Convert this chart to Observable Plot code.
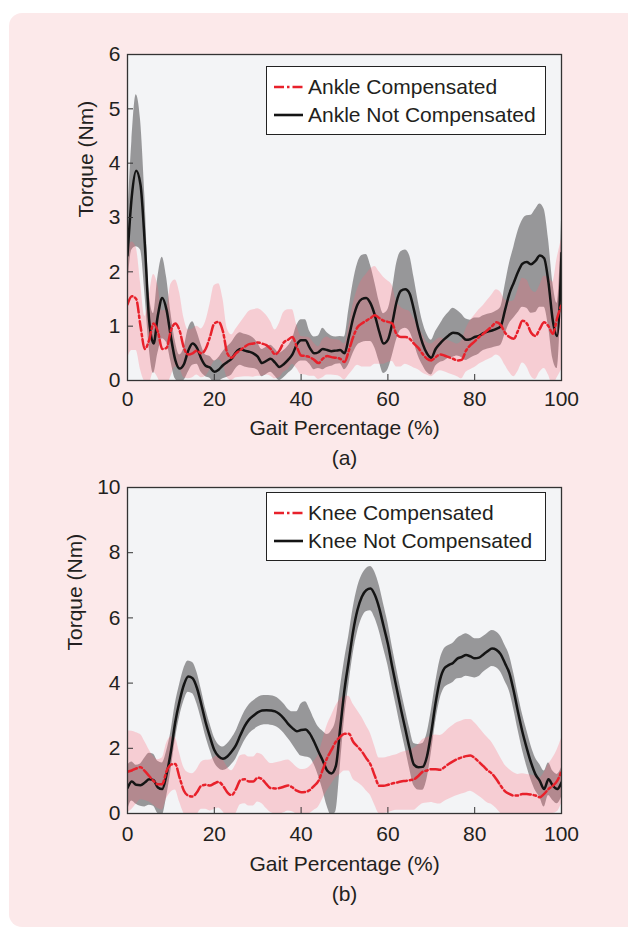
<!DOCTYPE html>
<html>
<head>
<meta charset="utf-8">
<script src="https://cdn.jsdelivr.net/npm/d3@7"></script>
<script src="https://cdn.jsdelivr.net/npm/@observablehq/plot@0.6"></script>
<style>
  html, body { margin: 0; padding: 0; background: #ffffff; }
  body { width: 628px; height: 930px; position: relative; overflow: hidden; font-family: "Liberation Sans", Arial, sans-serif; color: #231f20; }
  #panel { position: absolute; left: 9px; top: 13px; width: 660px; height: 914px; background: #fce9ea; border-radius: 13px; }
  .chart { position: absolute; left: 0; }
  .legend { position: absolute; left: 266px; width: 280px; height: 69px; box-sizing: border-box; border: 1.3px solid #222; background: #ffffff; }
  .legend .row { position: absolute; left: 0; height: 28px; width: 100%; }
  .legend svg { position: absolute; left: 6px; top: 0; }
  .legend span { position: absolute; left: 41px; top: 1px; font-size: 21px; line-height: 26px; white-space: nowrap; }
</style>
</head>
<body>
<div id="panel"></div>
<div id="chartA" class="chart" style="top:0px"></div>
<div id="chartB" class="chart" style="top:433px"></div>
<div class="legend" id="legA" style="top:66px"></div>
<div class="legend" id="legB" style="top:492px"></div>
<script>
// ---------- Data (gait percentage 0..100 at 1% steps) ----------
const gaitPct = d3.range(0, 101, 1);

const xTicks = [0, 20, 40, 60, 80, 100];
const yTicksAnkle = [0, 1, 2, 3, 4, 5, 6];
const yTicksKnee = [0, 2, 4, 6, 8, 10];

const ankleLabels = ["Ankle Compensated", "Ankle Not Compensated"];
const kneeLabels = ["Knee Compensated", "Knee Not Compensated"];

// Ankle, not compensated: mean and spread (Nm)
const ankleNotMean = [2.3,3.4,3.86,3.6,2.5,1.1,0.68,1.2,1.52,1.3,0.8,0.38,0.22,0.3,0.55,0.68,0.6,0.4,0.27,0.24,0.16,0.2,0.28,0.34,0.4,0.52,0.58,0.55,0.53,0.5,0.44,0.32,0.36,0.4,0.33,0.25,0.3,0.38,0.48,0.66,0.74,0.74,0.6,0.5,0.52,0.58,0.56,0.54,0.55,0.56,0.5,0.8,1.15,1.4,1.5,1.52,1.42,1.2,0.9,0.68,0.75,1.05,1.45,1.65,1.68,1.6,1.3,0.95,0.68,0.5,0.42,0.58,0.68,0.76,0.83,0.88,0.87,0.82,0.75,0.76,0.8,0.82,0.87,0.9,0.92,0.95,1.0,1.3,1.6,1.8,2.0,2.15,2.18,2.14,2.2,2.3,2.25,1.8,1.1,0.82,2.35];
const ankleNotSd = [0.6,1.0,1.4,1.2,0.9,0.5,0.55,0.7,0.75,0.6,0.45,0.35,0.25,0.3,0.4,0.4,0.3,0.25,0.2,0.2,0.2,0.22,0.25,0.28,0.3,0.3,0.3,0.3,0.3,0.28,0.25,0.25,0.25,0.25,0.25,0.25,0.25,0.25,0.28,0.35,0.38,0.38,0.3,0.3,0.3,0.38,0.32,0.28,0.25,0.25,0.3,0.5,0.65,0.75,0.8,0.8,0.7,0.6,0.55,0.55,0.55,0.6,0.7,0.72,0.72,0.7,0.6,0.5,0.4,0.35,0.32,0.32,0.35,0.4,0.42,0.45,0.42,0.4,0.38,0.35,0.35,0.33,0.32,0.32,0.32,0.33,0.35,0.45,0.55,0.65,0.75,0.8,0.85,0.9,0.95,0.95,0.9,0.8,0.7,0.6,0.6];

// Ankle, compensated
const ankleCompMean = [1.4,1.55,1.5,1.0,0.58,0.75,1.05,0.9,0.58,0.6,0.92,1.05,0.92,0.6,0.48,0.5,0.55,0.5,0.58,0.8,1.05,1.08,0.9,0.5,0.42,0.5,0.56,0.62,0.67,0.68,0.7,0.68,0.65,0.58,0.48,0.55,0.7,0.75,0.8,0.62,0.46,0.45,0.43,0.38,0.32,0.4,0.45,0.43,0.42,0.4,0.34,0.55,0.8,0.98,1.05,1.1,1.15,1.2,1.15,1.1,1.08,1.05,0.85,0.8,0.8,0.77,0.68,0.6,0.49,0.4,0.37,0.43,0.48,0.46,0.43,0.4,0.37,0.38,0.55,0.65,0.72,0.8,0.86,0.93,1.0,1.07,1.02,0.88,0.8,0.77,0.92,1.1,1.05,0.88,0.82,0.95,1.07,1.0,0.86,1.15,1.4];
const ankleCompSd = [1.0,1.0,0.95,0.8,0.6,0.8,0.9,0.85,0.7,0.7,0.85,0.8,0.7,0.55,0.45,0.45,0.45,0.45,0.5,0.6,0.7,0.7,0.6,0.45,0.42,0.45,0.5,0.55,0.6,0.62,0.62,0.6,0.55,0.5,0.45,0.5,0.55,0.55,0.5,0.4,0.35,0.35,0.35,0.3,0.3,0.35,0.35,0.33,0.33,0.33,0.33,0.45,0.6,0.7,0.8,0.85,0.9,0.9,0.85,0.8,0.75,0.7,0.6,0.55,0.5,0.5,0.45,0.4,0.35,0.3,0.3,0.3,0.3,0.3,0.3,0.3,0.3,0.35,0.4,0.45,0.48,0.5,0.52,0.55,0.58,0.6,0.6,0.6,0.65,0.7,0.75,0.78,0.8,0.8,0.8,0.8,0.85,0.9,0.95,1.1,1.2];

// Knee, not compensated
const kneeNotMean = [0.78,0.98,0.88,0.87,0.95,1.05,1.02,0.8,0.75,1.2,1.9,2.8,3.45,3.95,4.2,4.15,3.85,3.35,2.8,2.35,1.95,1.75,1.68,1.75,1.9,2.1,2.4,2.68,2.88,3.0,3.1,3.16,3.17,3.16,3.13,3.05,2.92,2.75,2.62,2.52,2.56,2.58,2.45,2.2,1.9,1.62,1.32,1.23,1.45,2.6,3.8,4.7,5.6,6.25,6.65,6.85,6.9,6.7,6.3,5.75,5.2,4.5,3.85,3.2,2.6,2.0,1.5,1.42,1.43,1.75,2.5,3.4,4.1,4.45,4.55,4.62,4.75,4.8,4.86,4.82,4.76,4.78,4.88,4.98,5.06,5.02,4.88,4.6,4.3,3.75,3.1,2.5,2.0,1.55,1.2,1.0,0.75,1.05,0.85,0.75,0.95];
const kneeNotSd = [0.7,0.6,0.6,0.65,0.75,0.8,0.8,0.8,0.8,0.7,0.6,0.55,0.5,0.5,0.48,0.48,0.48,0.45,0.42,0.4,0.38,0.36,0.36,0.38,0.4,0.42,0.44,0.45,0.45,0.45,0.45,0.45,0.45,0.45,0.45,0.45,0.45,0.45,0.5,0.6,0.8,0.85,0.75,0.7,0.75,0.9,1.1,1.3,1.4,1.2,0.9,0.75,0.7,0.68,0.66,0.66,0.68,0.7,0.7,0.68,0.65,0.62,0.6,0.6,0.6,0.62,0.65,0.7,0.72,0.7,0.65,0.6,0.6,0.6,0.6,0.6,0.62,0.65,0.65,0.63,0.6,0.58,0.55,0.55,0.55,0.55,0.55,0.55,0.55,0.55,0.55,0.55,0.55,0.52,0.5,0.5,0.55,0.5,0.45,0.45,0.45];

// Knee, compensated
const kneeCompMean = [1.28,1.32,1.38,1.42,1.3,1.15,1.0,0.9,0.9,1.3,1.5,1.52,1.1,0.7,0.55,0.52,0.65,0.85,0.88,0.86,0.92,0.97,0.85,0.65,0.56,0.75,1.02,1.05,0.98,0.98,1.1,1.05,0.9,0.78,0.77,0.78,0.82,0.86,0.8,0.7,0.65,0.66,0.72,0.85,1.0,1.35,1.7,1.95,2.2,2.35,2.45,2.45,2.2,2.05,1.9,1.7,1.5,1.15,0.85,0.85,0.88,0.92,0.95,0.98,1.0,1.02,1.05,1.15,1.28,1.32,1.36,1.36,1.34,1.42,1.52,1.6,1.67,1.72,1.76,1.78,1.7,1.58,1.45,1.32,1.22,1.05,0.85,0.68,0.6,0.55,0.55,0.6,0.6,0.58,0.55,0.5,0.6,0.75,0.85,1.0,1.3];
const kneeCompSd = [1.25,1.2,1.1,1.0,0.9,0.8,0.75,0.75,0.8,0.85,0.85,0.8,0.75,0.7,0.7,0.7,0.7,0.72,0.75,0.78,0.8,0.8,0.8,0.78,0.75,0.75,0.75,0.75,0.75,0.75,0.75,0.75,0.75,0.75,0.78,0.8,0.8,0.78,0.75,0.72,0.7,0.7,0.72,0.75,0.8,0.9,1.0,1.05,1.1,1.15,1.15,1.15,1.15,1.1,1.05,1.0,0.95,0.9,0.85,0.85,0.85,0.85,0.85,0.88,0.9,0.92,0.95,0.95,0.98,1.0,1.02,1.05,1.05,1.05,1.08,1.1,1.12,1.12,1.12,1.1,1.08,1.05,1.02,1.0,0.95,0.9,0.85,0.8,0.75,0.7,0.65,0.62,0.6,0.6,0.6,0.6,0.65,0.75,0.85,0.95,1.0];

// ---------- Styles ----------
const RED = "#e8212b";
const BLACK = "#141414";
const GRAY = "#8a8a8c";
const PINK = "#ff6478";
const DASH = "10,3,2.5,3";
const FONT = "Liberation Sans, Arial, sans-serif";
const intFmt = d => String(d);

function makeTable(mean, sd) {
  return gaitPct.map((x, i) => ({x, mean: mean[i], lo: mean[i] - sd[i], hi: mean[i] + sd[i]}));
}

function panel({notMean, notSd, compMean, compSd, yMax, yTicks, top, height, marginBottom, tickDy, titleDy, yTitleDx, caption, captionDy}) {
  const notT = makeTable(notMean, notSd);
  const compT = makeTable(compMean, compSd);
  return Plot.plot({
    width: 628,
    height,
    marginLeft: 127,
    marginRight: 67,
    marginTop: top,
    marginBottom,
    style: {background: "transparent", fontFamily: FONT, fontSize: "21px", color: "#231f20"},
    x: {domain: [0, 100]},
    y: {domain: [0, yMax]},
    marks: [
      Plot.frame({fill: "#f3f4f6", stroke: null}),
      Plot.areaY(notT, {x: "x", y1: "lo", y2: "hi", fill: GRAY, fillOpacity: 0.88, curve: "monotone-x", clip: true}),
      Plot.areaY(compT, {x: "x", y1: "lo", y2: "hi", fill: PINK, fillOpacity: 0.27, curve: "monotone-x", clip: true}),
      Plot.line(notT, {x: "x", y: "mean", stroke: BLACK, strokeWidth: 2.5, curve: "monotone-x", clip: true}),
      Plot.line(compT, {x: "x", y: "mean", stroke: RED, strokeWidth: 2.5, strokeDasharray: DASH, curve: "monotone-x", clip: true}),
      Plot.frame({stroke: "#333", strokeWidth: 1.3}),
      Plot.axisX({ticks: xTicks, tickFormat: intFmt, tickSize: 0, tickPadding: tickDy, label: null, fontSize: 21}),
      Plot.axisX({ticks: xTicks, tickSize: -6, tickFormat: () => "", label: null, stroke: "#333"}),
      Plot.axisY({ticks: yTicks, tickFormat: intFmt, tickSize: 0, tickPadding: 7, label: null, fontSize: 21}),
      Plot.axisY({ticks: yTicks, tickSize: -6, tickFormat: () => "", label: null, stroke: "#333"}),
      Plot.text(["Gait Percentage (%)"], {text: d => d, frameAnchor: "bottom", dy: titleDy, lineAnchor: "middle", fontSize: 21}),
      Plot.text(["Torque (Nm)"], {text: d => d, frameAnchor: "left", dx: yTitleDx, rotate: -90, lineAnchor: "middle", fontSize: 21}),
      Plot.text([caption], {text: d => d, frameAnchor: "bottom", dy: captionDy, lineAnchor: "middle", fontSize: 21})
    ]
  });
}

document.getElementById("chartA").append(panel({
  notMean: ankleNotMean, notSd: ankleNotSd, compMean: ankleCompMean, compSd: ankleCompSd,
  yMax: 6, yTicks: yTicksAnkle, top: 54, height: 470, marginBottom: 90,
  tickDy: 11, titleDy: 48, yTitleDx: -41, caption: "(a)", captionDy: 78
}));
document.getElementById("chartB").append(panel({
  notMean: kneeNotMean, notSd: kneeNotSd, compMean: kneeCompMean, compSd: kneeCompSd,
  yMax: 10, yTicks: yTicksKnee, top: 54, height: 497, marginBottom: 117,
  tickDy: 13, titleDy: 51, yTitleDx: -52, caption: "(b)", captionDy: 81
}));

function legend(el, labels) {
  labels.forEach((lab, i) => {
    const row = document.createElement("div");
    row.className = "row";
    row.style.top = (i === 0 ? 6 : 34) + "px";
    const dash = i === 0 ? `stroke="${RED}" stroke-dasharray="${DASH}" stroke-width="2.6"` : `stroke="${BLACK}" stroke-width="2.6"`;
    row.innerHTML = `<svg width="30" height="28"><line x1="1" x2="30" y1="14" y2="14" ${dash}/></svg><span>${lab}</span>`;
    el.append(row);
  });
}
legend(document.getElementById("legA"), ankleLabels);
legend(document.getElementById("legB"), kneeLabels);
</script>
</body>
</html>
